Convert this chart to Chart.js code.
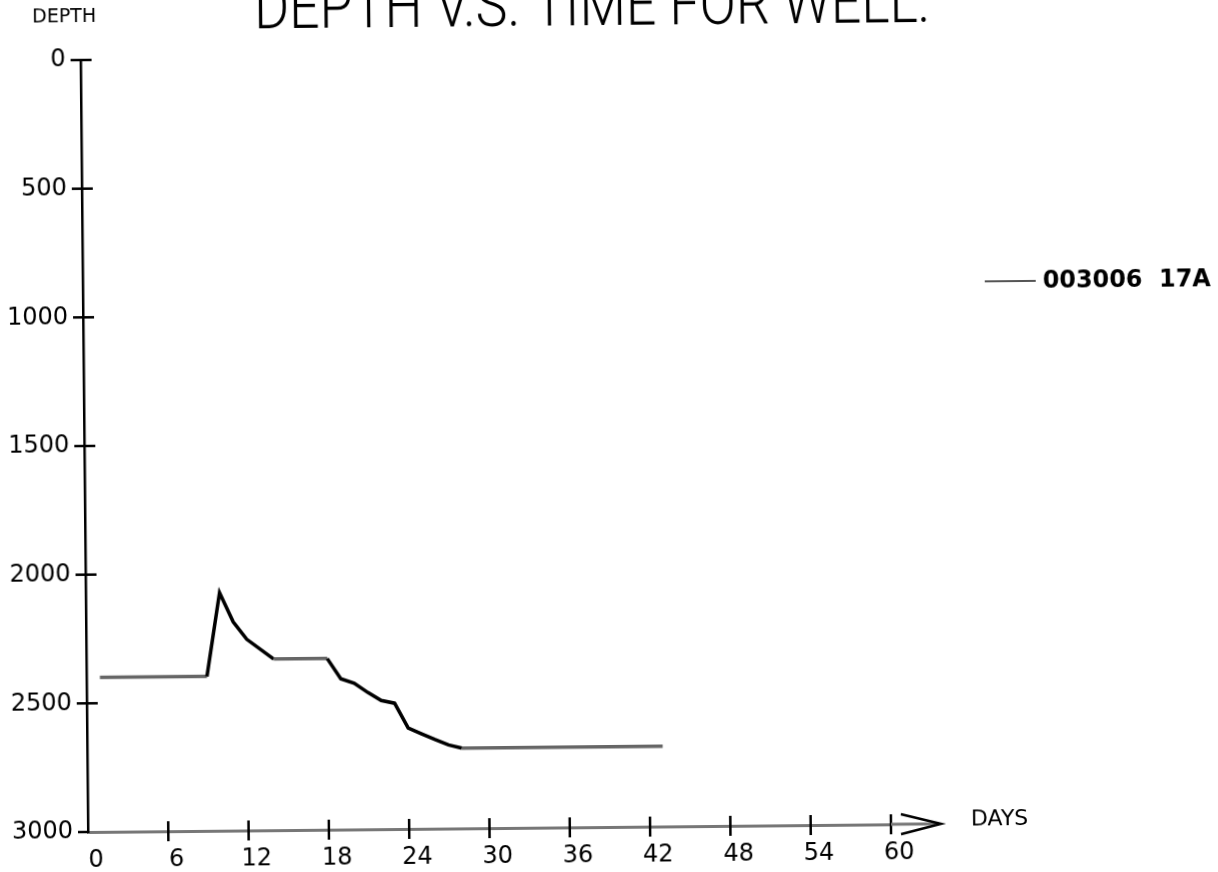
<!DOCTYPE html>
<html><head><meta charset="utf-8">
<script src="https://cdn.jsdelivr.net/npm/chart.js@4.4.0/dist/chart.umd.min.js"></script>
<style>
html,body{margin:0;padding:0;background:#fff;overflow:hidden}
#wrap{position:absolute;left:0;top:0;width:1218px;height:872px;transform:rotate(-0.55deg);transform-origin:88px 832px;}
canvas{display:block}
</style></head><body>
<div id="wrap"><canvas id="c" width="1218" height="872" style="width:1218px;height:872px"></canvas></div>
<script>
const days  = [1, 9, 10, 11, 12, 14, 18, 19, 20, 21, 22, 23, 24, 25, 26, 27, 28, 43];
const depth = [2400, 2400, 2075, 2189, 2257, 2335, 2335, 2414, 2432, 2468, 2500, 2511, 2608, 2631, 2654, 2675, 2688, 2688];
const xTicks = [0, 6, 12, 18, 24, 30, 36, 42, 48, 54, 60];
const yTicks = [0, 500, 1000, 1500, 2000, 2500, 3000];
const seriesName = '003006  17A';
const chartTitle = 'DEPTH V.S. TIME FOR WELL:';
const yTitle = 'DEPTH';
const xTitle = 'DAYS';

const points = days.map((d, i) => ({x: d, y: depth[i]}));

const decor = {
  id: 'decor',
  afterDraw(chart) {
    const ctx = chart.ctx;
    const a = chart.chartArea;
    const xs = chart.scales.x, ys = chart.scales.y;
    ctx.save();
    ctx.strokeStyle = '#000';
    ctx.lineWidth = 2.5;
    yTicks.forEach(v => {
      const y = ys.getPixelForValue(v);
      ctx.beginPath();
      ctx.moveTo(a.left - 10, y);
      ctx.lineTo(v === 3000 ? a.left : a.left + 11, y);
      ctx.stroke();
    });
    xTicks.forEach(v => {
      if (v === 0) return;
      const x = xs.getPixelForValue(v);
      ctx.beginPath();
      ctx.moveTo(x, a.bottom - 10);
      ctx.lineTo(x, a.bottom + 10);
      ctx.stroke();
    });
    ctx.strokeStyle = '#777';
    ctx.lineWidth = 3;
    ctx.beginPath();
    ctx.moveTo(a.right, a.bottom);
    ctx.lineTo(a.right + 48, a.bottom);
    ctx.stroke();
    ctx.strokeStyle = '#000';
    ctx.lineWidth = 2.5;
    ctx.beginPath();
    ctx.moveTo(a.right + 10, a.bottom - 10);
    ctx.lineTo(a.right + 50, a.bottom);
    ctx.lineTo(a.right + 10, a.bottom + 10);
    ctx.stroke();
    ctx.fillStyle = '#000';
    ctx.textBaseline = 'middle';
    ctx.textAlign = 'left';
    ctx.font = '19px "DejaVu Sans"';
    ctx.fillText(yTitle, 40, 17, 70);
    ctx.font = '22px "DejaVu Sans"';
    ctx.fillText(xTitle, a.right + 80, a.bottom - 4, 68);
    ctx.font = '300 62px Roboto';
    ctx.textBaseline = 'alphabetic';
    ctx.fillText(chartTitle, 262, 30, 675);
    const ly = 290;
    ctx.strokeStyle = '#555';
    ctx.lineWidth = 2;
    ctx.beginPath();
    ctx.moveTo(990, ly);
    ctx.lineTo(1041, ly);
    ctx.stroke();
    ctx.font = 'bold 24px "DejaVu Sans"';
    ctx.textBaseline = 'middle';
    ctx.fillText(chart.data.datasets[0].label, 1048, ly + 1, 168);
    ctx.restore();
  }
};

new Chart(document.getElementById('c'), {
  type: 'line',
  data: {
    datasets: [{
      label: seriesName,
      data: points,
      borderColor: '#000',
      borderWidth: 3.5,
      pointRadius: 0,
      tension: 0,
      fill: false,
      segment: {
        borderColor: s => (s.p0.parsed.y === s.p1.parsed.y ? '#666' : '#000')
      }
    }]
  },
  options: {
    responsive: false,
    animation: false,
    devicePixelRatio: 1,
    layout: {padding: {top: 60, right: 327, left: 0, bottom: 0}},
    plugins: {legend: {display: false}, title: {display: false}, tooltip: {enabled: false}},
    scales: {
      x: {
        type: 'linear', min: 0, max: 60,
        afterBuildTicks: s => { s.ticks = xTicks.map(v => ({value: v})); },
        afterFit: s => { s.height = 40; },
        grid: {display: false},
        border: {display: true, color: '#777', width: 3},
        ticks: {color: '#000', font: {family: 'DejaVu Sans', size: 24}, padding: 6, labelOffset: 8, maxRotation: 0, autoSkip: false, callback: v => String(v)}
      },
      y: {
        type: 'linear', min: 0, max: 3000, reverse: true,
        afterBuildTicks: s => { s.ticks = yTicks.map(v => ({value: v})); },
        afterFit: s => { s.width = 88; },
        grid: {display: false},
        border: {display: true, color: '#000', width: 2.5},
        ticks: {color: '#000', font: {family: 'DejaVu Sans', size: 24}, padding: 7, autoSkip: false, callback: v => String(v)}
      }
    }
  },
  plugins: [decor]
});
</script>
</body></html>
